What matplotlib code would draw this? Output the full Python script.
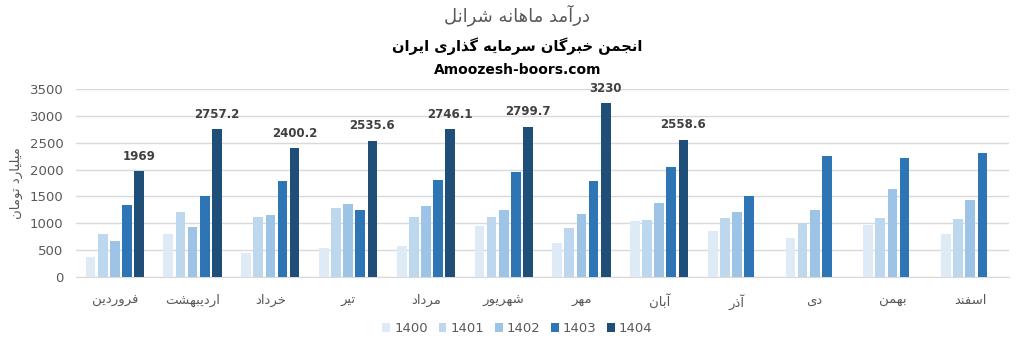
import numpy as np
import matplotlib
matplotlib.use("Agg")
import matplotlib.pyplot as plt

months = ["فروردین", "اردیبهشت", "خرداد", "تیر", "مرداد", "شهریور",
          "مهر", "آبان", "آذر", "دی", "بهمن", "اسفند"]
years = ["1400", "1401", "1402", "1403", "1404"]

y1400 = [373, 802, 447, 541, 578, 951, 634, 1044, 858, 727, 970, 802]
y1401 = [802, 1212, 1119, 1287, 1119, 1119, 914, 1063, 1100, 1007, 1100, 1081]
y1402 = [671, 932, 1156, 1361, 1324, 1249, 1175, 1380, 1212, 1249, 1641, 1436]
y1403 = [1342, 1510, 1790, 1249, 1809, 1958, 1790, 2051, 1510, 2256, 2219, 2312]
y1404 = [1969, 2757.2, 2400.2, 2535.6, 2746.1, 2799.7, 3230, 2558.6,
         np.nan, np.nan, np.nan, np.nan]

colors = ["#DEEBF7", "#BDD7EE", "#9DC3E6", "#2E75B6", "#1F4E79"]

# matplotlib has no arabic shaping, so map letters to presentation forms
# (isolated, final, initial, medial) and flip to visual order
FORMS = {
    "ا": "\uFE8D\uFE8E", "آ": "\uFE81\uFE82", "د": "\uFEA9\uFEAA",
    "ذ": "\uFEAB\uFEAC", "ر": "\uFEAD\uFEAE", "ز": "\uFEAF\uFEB0",
    "و": "\uFEED\uFEEE",
    "ب": "\uFE8F\uFE90\uFE91\uFE92", "ت": "\uFE95\uFE96\uFE97\uFE98",
    "ج": "\uFE9D\uFE9E\uFE9F\uFEA0", "خ": "\uFEA5\uFEA6\uFEA7\uFEA8",
    "س": "\uFEB1\uFEB2\uFEB3\uFEB4", "ش": "\uFEB5\uFEB6\uFEB7\uFEB8",
    "ف": "\uFED1\uFED2\uFED3\uFED4", "ل": "\uFEDD\uFEDE\uFEDF\uFEE0",
    "م": "\uFEE1\uFEE2\uFEE3\uFEE4", "ن": "\uFEE5\uFEE6\uFEE7\uFEE8",
    "ه": "\uFEE9\uFEEA\uFEEB\uFEEC", "ی": "\uFBFC\uFBFD\uFBFE\uFBFF",
    "گ": "\uFB92\uFB93\uFB94\uFB95", "ک": "\uFB8E\uFB8F\uFB90\uFB91",
}


def fa(text):
    out = []
    for i, ch in enumerate(text):
        if ch not in FORMS:
            out.append(ch)
            continue
        prev = text[i - 1] if i > 0 else ""
        nxt = text[i + 1] if i + 1 < len(text) else ""
        join_prev = prev in FORMS and len(FORMS[prev]) == 4
        join_next = len(FORMS[ch]) == 4 and nxt in FORMS
        idx = (1 if join_prev else 0) + (2 if join_next else 0)
        out.append(FORMS[ch][idx])
    return "".join(out[::-1])


plt.rcParams["font.family"] = ["DejaVu Sans"]
grey = "#595959"

fig = plt.figure(figsize=(10.35, 3.46), dpi=100)
ax = fig.add_axes([0.0734, 0.1994, 0.9016, 0.5434])

x = np.arange(len(months))
step = 0.156
width = 0.125
series = [y1400, y1401, y1402, y1403, y1404]
for k, (vals, c, yr) in enumerate(zip(series, colors, years)):
    bars = ax.bar(x + (k - 2) * step, vals, width, color=c, label=yr, zorder=3)
    if yr == "1404":
        for b, v in zip(bars, vals):
            if np.isnan(v):
                continue
            ax.annotate(f"{v:g}", (b.get_x() + b.get_width() / 2, v),
                        xytext=(0, 6), textcoords="offset points",
                        ha="center", va="bottom", fontsize=8.5,
                        fontweight="bold", color="#404040")

ax.set_xlim(-0.5, 11.5)
ax.set_ylim(0, 3500)
ax.set_yticks(np.arange(0, 3501, 500))
ax.yaxis.grid(True, color="#D9D9D9", linewidth=1, zorder=0)
for s in ["top", "right", "left"]:
    ax.spines[s].set_visible(False)
ax.spines["bottom"].set_color("#D9D9D9")
ax.tick_params(axis="both", length=0, colors=grey, labelsize=9.5)
ax.tick_params(axis="y", pad=9)
ax.tick_params(axis="x", pad=12)
ax.set_xticks(x)
ax.set_xticklabels([fa(m) for m in months], fontsize=9.5, color=grey)
ax.set_ylabel(fa("میلیارد تومان"), color=grey, fontsize=9.5)
ax.yaxis.set_label_coords(-0.057, 0.5)

fig.text(0.5, 0.955, fa("درآمد ماهانه شرانل"), ha="center", va="center",
         fontsize=13, color=grey)
fig.text(0.5, 0.867, fa("انجمن خبرگان سرمایه گذاری ایران"), ha="center",
         va="center", fontsize=10.5, fontweight="bold", color="black")
fig.text(0.5, 0.797, "Amoozesh-boors.com", ha="center", va="center",
         fontsize=10, fontweight="bold", color="black")

fig.legend(loc="center", bbox_to_anchor=(0.5, 0.05), ncol=5, frameon=False,
           fontsize=9.5, handlelength=0.6, handleheight=0.6,
           handletextpad=0.3, columnspacing=0.8, labelcolor=grey)

fig.savefig("out.png", dpi=100)
